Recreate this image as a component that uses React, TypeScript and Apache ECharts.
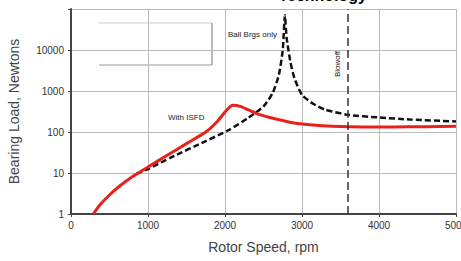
import React, { useEffect, useRef } from "react";
import * as echarts from "echarts";

const redRpm = [290, 380, 500, 600, 800, 1000, 1250, 1500, 1750, 1900, 2020, 2100, 2150, 2200, 2300, 2450, 2650, 2900, 3100, 3400, 3800, 4200, 4600, 5000];
const redLoad = [1, 1.7, 2.9, 4.3, 8.2, 14, 27, 52, 100, 180, 340, 450, 445, 420, 350, 265, 210, 165, 150, 138, 133, 133, 135, 138];

const ballRpm = [850, 1000, 1300, 1750, 2050, 2300, 2500, 2620, 2700, 2750, 2778, 2800, 2850, 2900, 3000, 3150, 3300, 3600, 4000, 4400, 5000];
const ballLoad = [9.5, 12.5, 24, 60, 112, 220, 420, 900, 2500, 10000, 70000, 20000, 5000, 2100, 800, 480, 350, 262, 226, 202, 180];

const blowoffRpm = 3600;

const xTicks = [0, 1000, 2000, 3000, 4000, 5000];
const yTicks = [1, 10, 100, 1000, 10000];

export default function App() {
  const ref = useRef<HTMLDivElement>(null);
  useEffect(() => {
    if (!ref.current) return;
    const chart = echarts.init(ref.current, undefined, { renderer: "svg" });
    const font = "Liberation Sans, Arial, sans-serif";
    chart.setOption({
      animation: false,
      backgroundColor: "#fff",
      grid: { left: 71, right: 5, top: 9, bottom: 47, outerBoundsMode: "none", containLabel: false },
      xAxis: {
        type: "value",
        min: xTicks[0],
        max: xTicks[xTicks.length - 1],
        interval: 1000,
        name: "Rotor Speed, rpm",
        nameLocation: "middle",
        nameGap: 26,
        nameTextStyle: { fontFamily: font, fontSize: 14, color: "#444" },
        axisLine: { lineStyle: { color: "#444", width: 2 } },
        axisTick: { show: true, length: 3, lineStyle: { color: "#444" } },
        axisLabel: { fontFamily: font, fontSize: 10, color: "#333", margin: 6, formatter: (v: number) => String(v) },
        splitLine: { show: true, lineStyle: { color: "#bbb", width: 1 } },
      },
      yAxis: {
        type: "log",
        logBase: 10,
        min: 1,
        max: 100000,
        name: "Bearing Load, Newtons",
        nameLocation: "middle",
        nameGap: 50,
        nameTextStyle: { fontFamily: font, fontSize: 14, color: "#444" },
        axisLine: { show: true, lineStyle: { color: "#444", width: 2 } },
        axisTick: { show: true, length: 3, lineStyle: { color: "#444" } },
        axisLabel: {
          fontFamily: font,
          fontSize: 10,
          color: "#333",
          margin: 7,
          formatter: (v: number) => (yTicks.indexOf(Math.round(v)) >= 0 ? String(Math.round(v)) : ""),
        },
        splitLine: { show: true, lineStyle: { color: "#bbb", width: 1 } },
      },
      series: [
        {
          type: "line",
          data: ballRpm.map((r, i) => [r, ballLoad[i]]),
          symbol: "none",
          smooth: 0.2,
          lineStyle: { color: "#111", width: 2.5, type: [6, 3] },
          z: 3,
          markLine: {
            silent: true,
            symbol: "none",
            label: { show: false },
            lineStyle: { color: "#333", width: 1.5, type: [8, 4] },
            data: [{ xAxis: blowoffRpm }],
          },
        },
        {
          type: "line",
          data: redRpm.map((r, i) => [r, redLoad[i]]),
          symbol: "none",
          smooth: 0.2,
          lineStyle: { color: "#e8211b", width: 3 },
          z: 4,
        },
      ],
      graphic: [
        { type: "line", shape: { x1: 99, y1: 23, x2: 212, y2: 23 }, style: { stroke: "#ccc", lineWidth: 1 } },
        { type: "line", shape: { x1: 212, y1: 23, x2: 212, y2: 65 }, style: { stroke: "#777", lineWidth: 1 } },
        { type: "line", shape: { x1: 99, y1: 65, x2: 212, y2: 65 }, style: { stroke: "#999", lineWidth: 1 } },
        {
          type: "text",
          x: 228,
          y: 34,
          style: { text: "Ball Brgs only", fontFamily: font, fontSize: 8, fill: "#222", verticalAlign: "middle", align: "left" },
        },
        {
          type: "text",
          x: 168,
          y: 117,
          style: { text: "With ISFD", fontFamily: font, fontSize: 8, fill: "#222", verticalAlign: "middle", align: "left" },
        },
        {
          type: "text",
          x: 337,
          y: 64,
          rotation: Math.PI / 2,
          style: { text: "Blowoff", fontFamily: font, fontSize: 8, fill: "#222", verticalAlign: "middle", align: "center" },
        },
        {
          type: "text",
          x: 367,
          y: 3,
          style: { text: "Technology", fontFamily: font, fontSize: 16, fontWeight: "bold", fill: "#000", verticalAlign: "bottom", align: "right" },
        },
      ],
    });
    return () => chart.dispose();
  }, []);
  return <div ref={ref} style={{ position: "absolute", left: 0, top: 0, width: 461, height: 261 }} />;
}
